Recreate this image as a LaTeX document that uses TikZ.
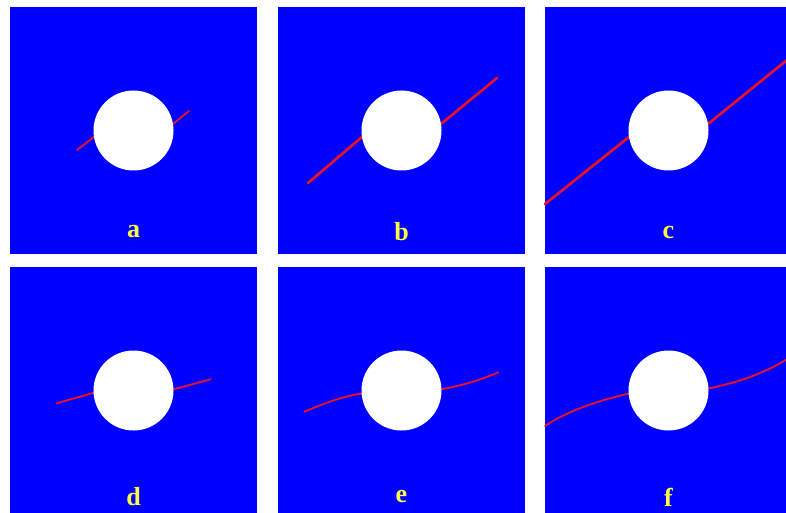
\documentclass[tikz,border=0pt]{standalone}
\usepackage{fontspec}
\setmainfont{Liberation Serif}
\definecolor{plateblue}{HTML}{0000FF}
\definecolor{crackred}{HTML}{EE1122}
\definecolor{tagyellow}{HTML}{FFFF40}
\tikzset{
  panel/.style={fill=plateblue},
  hole/.style={fill=white},
  crack/.style={crackred,line width=1.8pt,line cap=round,line join=round},
  tag/.style={text=tagyellow,font=\bfseries\fontsize{26}{26}\selectfont},
}

\begin{document}
\begin{tikzpicture}[x=1pt,y=1pt]
\useasboundingbox (0,0) rectangle (786,512);
\clip (0,0) rectangle (786,512);
\fill[white] (0,0) rectangle (786,512);
% top row: straight cracks growing
\begin{scope}[shift={(10,258)}]
\fill[panel] (0,0) rectangle (247,247);
\draw[crack] (67,104) -- (84,117) -- (163,130) -- (179,143);
\fill[hole] (123.5,123.5) circle (40);
\node[tag] (a) at (123.5,22) {a};
\end{scope}
\begin{scope}[shift={(278,258)}]
\fill[panel] (0,0) rectangle (247,247);
\draw[crack,line width=2.6pt] (30,71) -- (84,117) -- (163,130) -- (219,176);
\fill[hole] (123.5,123.5) circle (40);
\node[tag] (b) at (123.5,22) {b};
\end{scope}
\begin{scope}[shift={(545,258)}]
\fill[panel] (0,0) rectangle (247,247);
\draw[crack,line width=2.6pt] (0,50) -- (84,117) -- (163,130) -- (247,198);
\fill[hole] (123.5,123.5) circle (40);
\node[tag] (c) at (123.5,22) {c};
\end{scope}
% bottom row: curved cracks
\begin{scope}[shift={(10,-2)}]
\fill[panel] (0,0) rectangle (247,247);
\draw[crack] (46.7,110.7) -- (84,121.3) -- (163.7,124.7) -- (200.7,134.7);
\fill[hole] (123.5,123.5) circle (40);
\node[tag] (d) at (123.5,17) {d};
\end{scope}
\begin{scope}[shift={(278,-2)}]
\fill[panel] (0,0) rectangle (247,247);
\draw[crack] (26.3,102.3) .. controls (45,110) and (60,116.5) .. (84.3,120.7)
  -- (163.7,124.7) .. controls (185,129) and (200,133) .. (220.3,141.7);
\fill[hole] (123.5,123.5) circle (40);
\node[tag] (e) at (123.5,17) {e};
\end{scope}
\begin{scope}[shift={(545,-2)}]
\fill[panel] (0,0) rectangle (247,247);
\draw[crack] (0,88) .. controls (25,105) and (60,115) .. (85,120.7)
  -- (164.3,125.7) .. controls (190,131) and (220,140) .. (247,158);
\fill[hole] (123.5,123.5) circle (40);
\node[tag] (f) at (123.5,17) {f};
\end{scope}
\end{tikzpicture}
\end{document}
